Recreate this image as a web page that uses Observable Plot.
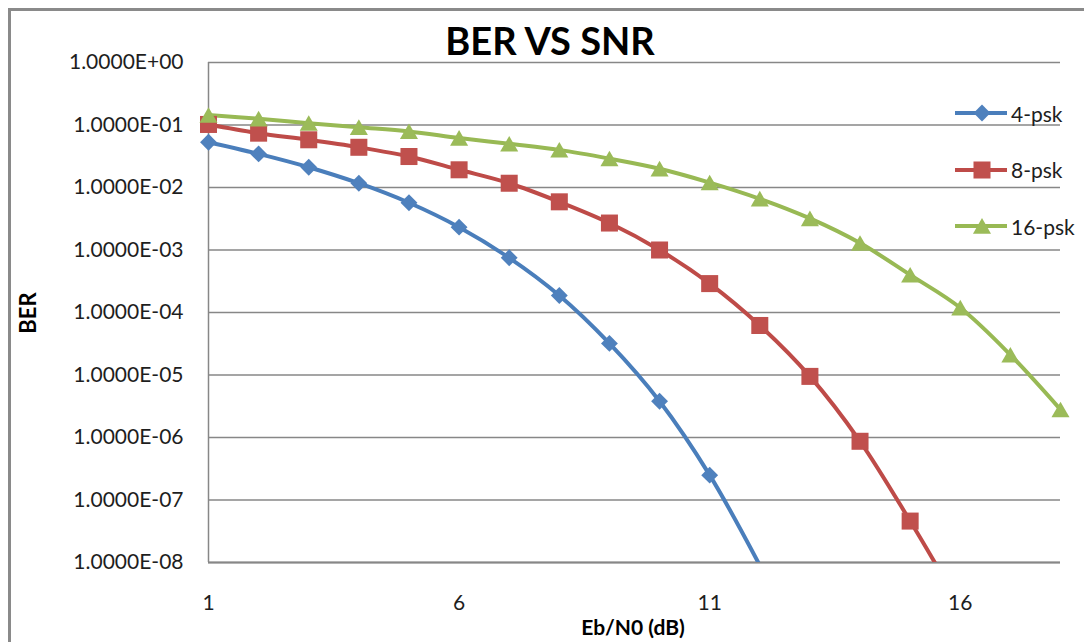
<!DOCTYPE html>
<html>
<head>
<meta charset="utf-8">
<script src="https://cdn.jsdelivr.net/npm/d3@7"></script>
<script src="https://cdn.jsdelivr.net/npm/@observablehq/plot@0.6"></script>
<style>
  html, body { margin: 0; padding: 0; background: #fff; }
  #wrap { position: relative; width: 1084px; height: 642px; overflow: hidden; background: #fff; font-family: Lato, "Open Sans", sans-serif; color: #1e1e1e; }
  #frame { position: absolute; left: 8px; top: 8px; width: 2000px; height: 2000px; border-left: 3px solid #8a8a8a; border-top: 3px solid #8a8a8a; }
  #chart { position: absolute; left: 0; top: 0; }
  #title { position: absolute; left: 350px; width: 400px; top: 21px; text-align: center; font-weight: 700; font-size: 38px; line-height: 1; color: #000; }
  #ylab { position: absolute; left: 28px; top: 313px; transform: translate(-50%, -50%) rotate(-90deg); font-weight: 700; font-size: 22px; line-height: 1; color: #000; white-space: nowrap; }
  #xlab { position: absolute; left: 633px; top: 626px; transform: translate(-50%, -50%); font-weight: 700; font-size: 21px; line-height: 1; color: #000; white-space: nowrap; }
  #legend { position: absolute; left: 955px; top: 99px; }
  .lrow { display: flex; align-items: center; height: 28px; margin-bottom: 28.5px; font-size: 21px; }
  .lrow svg { display: block; margin-right: 4px; }
</style>
</head>
<body>
<div id="wrap">
  <div id="frame"></div>
  <div id="chart"></div>
  <div id="title">BER VS SNR</div>
  <div id="ylab">BER</div>
  <div id="xlab">Eb/N0 (dB)</div>
  <div id="legend"></div>
</div>
<script>
// ---- data ----
const snr = [1, 2, 3, 4, 5, 6, 7, 8, 9, 10, 11, 12, 13, 14, 15, 16, 17, 18];
const ber4psk = [0.053, 0.0345, 0.0211, 0.0117, 0.0057, 0.00232, 7.5e-4, 1.87e-4, 3.2e-5, 3.8e-6, 2.5e-7, 9e-9];
const ber8psk = [0.102, 0.074, 0.058, 0.044, 0.0313, 0.0192, 0.0117, 0.0059, 0.0027, 1.0e-3, 2.9e-4, 6.2e-5, 9.5e-6, 8.7e-7, 4.6e-8, 2e-9];
const ber16psk = [0.144, 0.126, 0.107, 0.092, 0.079, 0.062, 0.05, 0.04, 0.029, 0.02, 0.012, 0.0066, 0.0032, 1.29e-3, 4.0e-4, 1.19e-4, 2.1e-5, 2.8e-6];
const seriesNames = ["4-psk", "8-psk", "16-psk"];
const xTicks = [1, 6, 11, 16];
const yTicks = [1, 1e-1, 1e-2, 1e-3, 1e-4, 1e-5, 1e-6, 1e-7, 1e-8];

// ---- styles ----
const styles = {
  "4-psk": {stroke: "#4a7ebb", fill: "#4f81bd", symbol: "diamond2", d3sym: d3.symbolDiamond2, r: 7.6, dy: 0},
  "8-psk": {stroke: "#be4b48", fill: "#c0504d", symbol: "square", d3sym: d3.symbolSquare, r: 9.6, dy: 0},
  "16-psk": {stroke: "#98b954", fill: "#9bbb59", symbol: "triangle", d3sym: d3.symbolTriangle, r: 6.7, dy: 2.5}
};

const valuesBy = {"4-psk": ber4psk, "8-psk": ber8psk, "16-psk": ber16psk};
const rows = seriesNames.flatMap(name => valuesBy[name].map((v, i) => ({series: name, snr: snr[i], ber: v})));

const ymin = yTicks[yTicks.length - 1];
function fmt(d) {
  const s = d3.format(".4e")(d); // e.g. 1.0000e-8
  const [m, e] = s.split("e");
  const n = +e;
  return m + "E" + (n < 0 ? "-" : "+") + String(Math.abs(n)).padStart(2, "0");
}

const marks = [
  Plot.gridY(yTicks, {stroke: "#878787", strokeOpacity: 1, strokeWidth: 1.3}),
  Plot.ruleX([snr[0]], {stroke: "#878787", strokeWidth: 1.5}),
  Plot.ruleY([ymin], {stroke: "#878787", strokeWidth: 2}),
  Plot.axisY(yTicks, {tickSize: 0, tickPadding: 25, tickFormat: fmt, label: null, fontSize: 21}),
  Plot.axisX(xTicks, {tickSize: 0, tickPadding: 33, tickFormat: d => String(d), label: null, fontSize: 21})
];
for (const name of seriesNames) {
  const st = styles[name];
  const data = rows.filter(d => d.series === name);
  marks.push(Plot.line(data, {x: "snr", y: "ber", stroke: st.stroke, strokeWidth: 4, curve: "catmull-rom", clip: true}));
}
for (const name of seriesNames) {
  const st = styles[name];
  const data = rows.filter(d => d.series === name && d.ber >= ymin);
  marks.push(Plot.dot(data, {x: "snr", y: "ber", symbol: () => st.symbol, r: st.r, fill: st.fill, stroke: "none", dy: st.dy}));
}

const chart = Plot.plot({
  width: 1084,
  height: 642,
  marginLeft: 208,
  marginRight: 24,
  marginTop: 62,
  marginBottom: 80,
  style: {fontFamily: "Lato, 'Open Sans', sans-serif", fontSize: "21px", color: "#1e1e1e", background: "transparent", overflow: "visible"},
  x: {domain: [snr[0], snr[snr.length - 1]]},
  y: {type: "log", domain: [ymin, yTicks[0]]},
  marks
});
document.getElementById("chart").appendChild(chart);

// ---- legend ----
const legend = d3.select("#legend");
for (const name of seriesNames) {
  const st = styles[name];
  const row = legend.append("div").attr("class", "lrow");
  const svg = row.append("svg").attr("width", 52).attr("height", 28);
  svg.append("line").attr("x1", 0).attr("x2", 52).attr("y1", 14).attr("y2", 14)
    .attr("stroke", st.stroke).attr("stroke-width", 4);
  svg.append("path").attr("d", d3.symbol(st.d3sym, Math.PI * st.r * st.r)())
    .attr("transform", `translate(27,${14 + st.dy})`).attr("fill", st.fill);
  row.append("span").text(name);
}
</script>
</body>
</html>
